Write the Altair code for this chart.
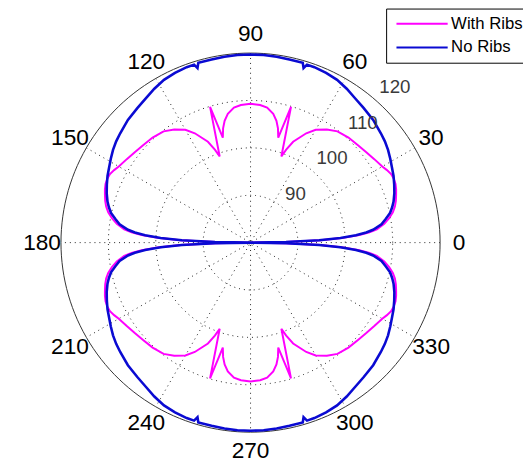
import altair as alt
import pandas as pd
import numpy as np

# ---- data (first quadrant, degrees / radial value) ----
# The reference pattern is mirrored about both axes.
no_ribs_deg = [0, 1, 2, 3, 4, 5, 6, 8, 10, 12, 14, 16, 19, 22, 25, 28, 31, 34, 37,
               40, 45, 50, 54, 58, 62, 66, 70, 72.4, 73.1, 73.8, 78, 82, 86, 90]
no_ribs_val = [80, 87.5, 94.5, 99.0, 102.3, 104.5, 106.0, 107.9, 109.0, 110.1, 110.8,
               111.4, 112.1, 112.7, 113.3, 113.8, 114.4, 115.0, 115.5, 115.9, 116.6,
               117.1, 117.6, 118.3, 118.9, 119.2, 119.4, 119.4, 118.5, 119.5, 119.5,
               119.6, 119.7, 119.7]

with_ribs_deg = [0, 1, 2, 3, 4, 5, 6, 8, 10, 12, 14, 16, 18, 20, 22, 24, 26, 28, 30,
                 34, 38, 42, 47, 52, 56, 60, 63, 67.1, 69, 70.3, 73.4, 75.2, 76.5, 78,
                 80, 83, 86, 90]
with_ribs_val = [80, 87.5, 94.8, 99.6, 103.0, 105.2, 106.8, 108.5, 109.7, 110.7, 111.4,
                 111.9, 112.3, 112.7, 113.0, 113.1, 113.0, 112.6, 112.1, 111.5, 111.0,
                 110.6, 110.3, 109.8, 108.8, 107.5, 105.9, 103.1, 101.0, 99.3, 109.9,
                 102.9, 104.8, 106.3, 107.6, 108.7, 109.1, 109.3]

series_names = ["With Ribs", "No Ribs"]
series_colors = ["#ff00ff", "#0a0ad2"]

r_min, r_max = 80, 120
ring_values = [90, 100, 110, 120]
spoke_deg = [0, 30, 60, 90, 120, 150]
angle_labels = [0, 30, 60, 90, 120, 150, 180, 210, 240, 270, 300, 330]


def full_turn(deg, val):
    q1 = list(zip(deg, val))
    q2 = [(180 - d, v) for d, v in reversed(q1)][1:]
    q3 = [(180 + d, v) for d, v in q1][1:]
    q4 = [(360 - d, v) for d, v in reversed(q1)][1:]
    return q1 + q2 + q3 + q4


rows = []
for name, deg, val in [("With Ribs", with_ribs_deg, with_ribs_val),
                       ("No Ribs", no_ribs_deg, no_ribs_val)]:
    for i, (d, v) in enumerate(full_turn(deg, val)):
        rows.append({"series": name, "angle": d, "value": v, "order": i})
curves = pd.DataFrame(rows)

ring_rows = []
for rv in ring_values:
    for k, a in enumerate(range(0, 361, 2)):
        ring_rows.append({"ring": rv, "angle": a, "value": rv, "order": k})
rings = pd.DataFrame(ring_rows)

W, H = 523, 459
cx, cy = 246.3, 234.7          # plot-area pixel of the polar centre
px_per_unit = 192.5 / (r_max - r_min)
xdom = [-cx / px_per_unit, (W - cx) / px_per_unit]
ydom = [-(H - cy) / px_per_unit, cy / px_per_unit]

xs = alt.Scale(domain=xdom, nice=False, zero=False)
ys = alt.Scale(domain=ydom, nice=False, zero=False)
X = lambda f: alt.X(f, type="quantitative", scale=xs, axis=None)
Y = lambda f: alt.Y(f, type="quantitative", scale=ys, axis=None)

to_xy = dict(
    px=f"(datum.value - {r_min}) * cos(datum.angle * PI / 180)",
    py=f"(datum.value - {r_min}) * sin(datum.angle * PI / 180)",
)

dotted = [1, 4]

inner_rings = alt.Chart(rings).transform_filter(
    f"datum.ring < {r_max}").transform_calculate(**to_xy).mark_line(
    color="#222", strokeWidth=1, strokeDash=dotted).encode(
    x=X("px"), y=Y("py"), detail="ring:N", order="order:Q")

outer_ring = alt.Chart(rings).transform_filter(
    f"datum.ring == {r_max}").transform_calculate(**to_xy).mark_line(
    color="#333", strokeWidth=1).encode(
    x=X("px"), y=Y("py"), order="order:Q")

spokes = alt.Chart(pd.DataFrame({"angle": spoke_deg})).transform_calculate(
    sx=f"{r_max - r_min} * cos(datum.angle * PI / 180)",
    sy=f"{r_max - r_min} * sin(datum.angle * PI / 180)",
    ex=f"-{r_max - r_min} * cos(datum.angle * PI / 180)",
    ey=f"-{r_max - r_min} * sin(datum.angle * PI / 180)",
).mark_rule(color="#222", strokeWidth=1, strokeDash=dotted).encode(
    x=X("sx"), y=Y("sy"), x2="ex:Q", y2="ey:Q")

ang_lbl = alt.Chart(pd.DataFrame({"angle": angle_labels})).transform_calculate(
    lx=f"1.1 * {r_max - r_min} * cos(datum.angle * PI / 180)",
    ly=f"1.1 * {r_max - r_min} * sin(datum.angle * PI / 180)",
    txt="'' + datum.angle",
).mark_text(fontSize=23, font="Liberation Sans", color="black",
            align="center", baseline="middle").encode(
    x=X("lx"), y=Y("ly"), text="txt:N")

r_lbl = alt.Chart(pd.DataFrame({"value": ring_values})).transform_calculate(
    lx=f"(datum.value - {r_min} + 1) * cos(48.5 * PI / 180)",
    ly=f"(datum.value - {r_min} + 1) * sin(48.5 * PI / 180)",
    txt="'' + datum.value",
).mark_text(fontSize=19, font="Liberation Sans", color="#3a3a3a",
            align="left", baseline="bottom").encode(
    x=X("lx"), y=Y("ly"), text="txt:N")

color = alt.Color(
    "series:N",
    scale=alt.Scale(domain=series_names, range=series_colors),
    legend=alt.Legend(
        title=None, orient="none", legendX=384, legendY=-3,
        symbolType="M-1,0H9.4", symbolSize=100, symbolStrokeWidth=2,
        labelFontSize=17, labelFont="Liberation Sans", labelColor="black",
        fillColor="white", strokeColor="black", padding=7, rowPadding=6,
        labelOffset=42, labelLimit=300,
    ),
)

mag = alt.Chart(curves).transform_filter("datum.series == 'With Ribs'").transform_calculate(
    **to_xy).mark_line(strokeWidth=2).encode(
    x=X("px"), y=Y("py"), color=color, order="order:Q")

blue = alt.Chart(curves).transform_filter("datum.series == 'No Ribs'").transform_calculate(
    **to_xy).mark_line(strokeWidth=2.6).encode(
    x=X("px"), y=Y("py"), color=color, order="order:Q")

chart = alt.layer(inner_rings, spokes, outer_ring, mag, blue, ang_lbl, r_lbl).properties(
    width=W, height=H, autosize=alt.AutoSizeParams(type="none"), padding=0,
    background="white",
).configure_view(stroke=None)

chart.save("out.html", embed_options={"renderer": "svg", "actions": False})
